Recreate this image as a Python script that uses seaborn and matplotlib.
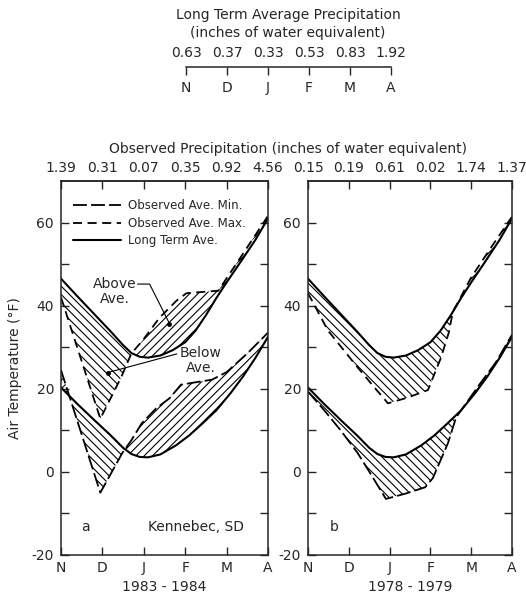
import numpy as np
import matplotlib
matplotlib.use("Agg")
import matplotlib.pyplot as plt
import seaborn as sns

# ---------------- data ----------------
months = ["N", "D", "J", "F", "M", "A"]
lt_precip = ["0.63", "0.37", "0.33", "0.53", "0.83", "1.92"]
obs_precip_a = ["1.39", "0.31", "0.07", "0.35", "0.92", "4.56"]
obs_precip_b = ["0.15", "0.19", "0.61", "0.02", "1.74", "1.37"]

# long term average max / min (same station, both panels); x = months after Nov
lt_max_x = [0, 0.4, 0.8, 1.2, 1.5, 1.7, 1.9, 2.1, 2.4, 2.7, 3.0, 3.25, 3.5, 3.75, 4.0, 4.35, 4.7, 5.0]
lt_max_y = [46.5, 42.2, 38.0, 33.8, 30.5, 28.6, 27.7, 27.5, 28.0, 29.3, 31.2, 34.0, 37.7, 41.8, 45.6, 50.7, 55.9, 61.0]
lt_min_x = [0, 0.4, 0.8, 1.2, 1.5, 1.7, 1.9, 2.1, 2.4, 2.78, 3.1, 3.4, 3.75, 4.1, 4.4, 4.7, 5.0]
lt_min_y = [20.3, 16.3, 12.5, 8.8, 5.8, 4.3, 3.6, 3.5, 4.2, 6.4, 8.8, 11.5, 14.8, 19.0, 23.0, 27.5, 32.5]

# 1983-1984 observed
a_max_x = [0, 0.95, 1.45, 1.7, 1.97, 2.38, 2.79, 3.03, 3.8, 4.35, 5.0]
a_max_y = [42.0, 12.8, 22.7, 28.5, 31.6, 37.1, 41.2, 43.0, 43.6, 51.8, 61.6]
a_min_x = [0, 0.95, 1.49, 1.7, 1.95, 2.3, 2.62, 2.9, 3.65, 4.0, 4.5, 5.0]
a_min_y = [24.5, -5.0, 4.7, 7.6, 11.7, 15.3, 17.7, 21.0, 22.2, 24.0, 28.5, 33.5]

# 1978-1979 observed
b_max_x = [0, 0.49, 1.22, 1.63, 1.96, 2.45, 2.94, 3.26, 3.45, 3.55, 4.0, 4.5, 5.0]
b_max_y = [43.0, 34.0, 25.1, 20.3, 16.5, 17.9, 19.7, 27.5, 33.5, 38.5, 46.8, 54.2, 61.4]
b_min_x = [0, 0.4, 0.8, 1.22, 1.63, 1.91, 2.4, 2.87, 3.06, 3.43, 3.63, 4.2, 4.6, 5.0]
b_min_y = [19.3, 14.8, 10.0, 4.5, -2.0, -6.5, -5.2, -3.7, -1.5, 6.9, 13.1, 21.0, 26.3, 33.0]

# ---------------- style ----------------
sns.set_style("ticks")
plt.rcParams["font.family"] = ["DejaVu Sans"]
plt.rcParams["font.size"] = 10
plt.rcParams["axes.unicode_minus"] = False
plt.rcParams["lines.scale_dashes"] = False
plt.rcParams["hatch.linewidth"] = 0.8
plt.rcParams["axes.linewidth"] = 1.1

W, H = 526, 595
fig = plt.figure(figsize=(W / 100, H / 100), dpi=100)

MIN_LS = (0, (10, 3))
MAX_LS = (0, (6.5, 4))
LW = 1.3


def px_axes(l, t, r, b):
    return fig.add_axes([l / W, 1 - b / H, (r - l) / W, (b - t) / H])


def hatch_between(ax, xo, yo, xl, yl):
    xs = np.union1d(xo, xl)
    o = np.interp(xs, xo, yo)
    l = np.interp(xs, xl, yl)
    ax.fill_between(xs, o, l, where=o >= l, interpolate=True, facecolor="none",
                    edgecolor="black", hatch="////", linewidth=0)
    ax.fill_between(xs, o, l, where=o <= l, interpolate=True, facecolor="none",
                    edgecolor="black", hatch="\\\\\\\\", linewidth=0)


def panel(ax, maxx, maxy, minx, miny, precip, year):
    hatch_between(ax, maxx, maxy, lt_max_x, lt_max_y)
    hatch_between(ax, minx, miny, lt_min_x, lt_min_y)
    sns.lineplot(x=minx, y=miny, ax=ax, color="black", lw=LW, linestyle=MIN_LS,
                 sort=False, estimator=None, label="Observed Ave. Min.")
    sns.lineplot(x=maxx, y=maxy, ax=ax, color="black", lw=LW, linestyle=MAX_LS,
                 sort=False, estimator=None, label="Observed Ave. Max.")
    sns.lineplot(x=lt_max_x, y=lt_max_y, ax=ax, color="black", lw=1.5,
                 sort=False, estimator=None, label="Long Term Ave.")
    sns.lineplot(x=lt_min_x, y=lt_min_y, ax=ax, color="black", lw=1.5,
                 sort=False, estimator=None)
    ax.set_xlim(0, 5)
    ax.set_ylim(-20, 70)
    ax.set_xticks(range(len(months)), months)
    ax.set_yticks([-20, 0, 20, 40, 60])
    ax.set_yticks([-10, 10, 30, 50], minor=True)
    ax.tick_params(axis="both", which="both", direction="in", top=True, right=True,
                   length=6, width=1, labelsize=10)
    ax.tick_params(axis="y", pad=5)
    ax.tick_params(axis="x", pad=4)
    sec = ax.secondary_xaxis("top")
    sec.set_xticks(range(len(months)), precip)
    sec.tick_params(length=0, pad=4, labelsize=10)
    ax.set_xlabel(year, fontsize=10, labelpad=4)
    ax.set_ylabel("")
    lg = ax.get_legend()
    if lg is not None:
        lg.remove()


ax_a = px_axes(61, 181, 268, 555)
ax_b = px_axes(308, 181, 512, 555)

panel(ax_a, a_max_x, a_max_y, a_min_x, a_min_y, obs_precip_a, "1983 - 1984")
panel(ax_b, b_max_x, b_max_y, b_min_x, b_min_y, obs_precip_b, "1978 - 1979")

ax_a.set_ylabel("Air Temperature (°F)", fontsize=10, labelpad=7)

handles, labels = ax_a.get_legend_handles_labels()
ax_a.legend(handles[:3], labels[:3], loc="upper left", bbox_to_anchor=(0.06, 0.952),
            frameon=False, fontsize=8.5, handlelength=4.0, handletextpad=0.6,
            labelspacing=0.4, borderpad=0, borderaxespad=0)

# annotations in panel a
ax_a.text(1.3, 43.4, "Above\nAve.", ha="center", va="center", fontsize=10,
          multialignment="center", linespacing=1.1)
ax_a.plot([1.85, 2.14, 2.62], [45.2, 45.2, 35.7], color="black", lw=0.8)
ax_a.plot([2.62], [35.7], "o", color="black", ms=2.5)
ax_a.text(3.38, 26.8, "Below\nAve.", ha="center", va="center", fontsize=10,
          multialignment="center", linespacing=1.1)
ax_a.plot([2.8, 1.13], [28.4, 23.9], color="black", lw=0.8)
ax_a.plot([1.13], [23.9], "o", color="black", ms=2.5)
ax_a.text(0.58, -13.3, "a", ha="center", va="center", fontsize=10)
ax_a.text(3.26, -13.3, "Kennebec, SD", ha="center", va="center", fontsize=10)
ax_b.text(0.64, -13.3, "b", ha="center", va="center", fontsize=10)

# header: long term average precipitation scale
hx = fig.add_axes([186 / W, 1 - 67 / H, 205 / W, 0.0001])
hx.set_xlim(0, 5)
hx.set_xticks(range(len(months)), months)
hx.set_yticks([])
hx.patch.set_alpha(0)
for s in ["left", "right", "top"]:
    hx.spines[s].set_visible(False)
hx.tick_params(axis="x", direction="out", length=6, width=1, pad=4, labelsize=10)
hsec = hx.secondary_xaxis("top")
hsec.set_xticks(range(len(months)), lt_precip)
hsec.tick_params(length=0, pad=5, labelsize=10)
hsec.spines["top"].set_visible(False)

fig.text(288 / W, 1 - 15 / H, "Long Term Average Precipitation", ha="center", va="center", fontsize=10)
fig.text(288 / W, 1 - 33 / H, "(inches of water equivalent)", ha="center", va="center", fontsize=10)
fig.text(288 / W, 1 - 149 / H, "Observed Precipitation (inches of water equivalent)",
         ha="center", va="center", fontsize=10)

fig.savefig("out.png", dpi=100)
